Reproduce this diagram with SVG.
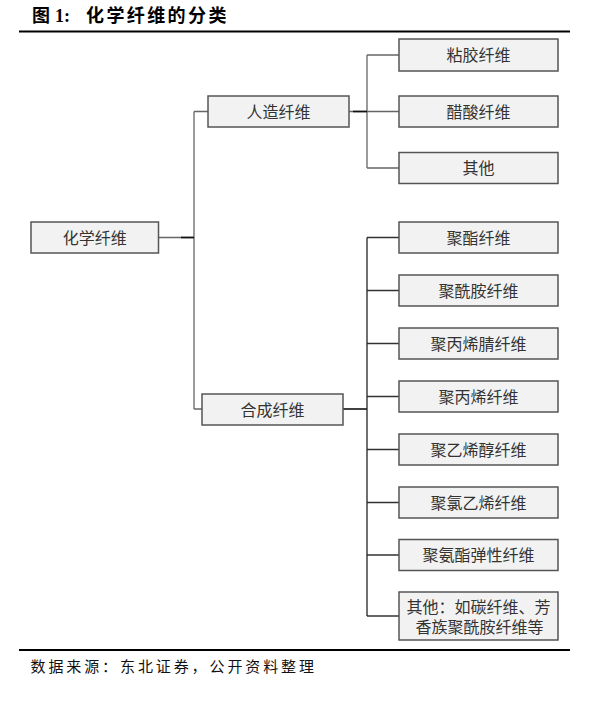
<svg xmlns="http://www.w3.org/2000/svg" width="613" height="705" viewBox="0 0 613 705">
<style>
.box{fill:#f2f2f2;stroke:#555;stroke-width:1.5}
.lbl{font-family:"Noto Sans CJK SC","Noto Sans",sans-serif;font-size:16px;fill:#333;text-anchor:middle}
.ln{fill:none;stroke:#666;stroke-width:1.3}
.dk{fill:none;stroke:#111;stroke-width:1.6}
.rule{stroke:#000;stroke-width:2.2}
</style>
<rect width="613" height="705" fill="#fff"/>
<g id="title">
<text x="32" y="21.5" style="font-family:'Noto Sans CJK SC',sans-serif;font-size:18px;font-weight:bold;fill:#000">图</text>
<text x="55" y="21.5" style="font-family:'Liberation Serif',serif;font-size:18px;font-weight:bold;fill:#000">1:</text>
<text x="86" y="21.5" style="font-family:'Noto Sans CJK SC',sans-serif;font-size:18px;font-weight:bold;fill:#000;letter-spacing:2.4px">化学纤维的分类</text>
</g>
<line class="rule" x1="19" y1="31.5" x2="570" y2="31.5"/>
<line class="rule" x1="19" y1="650" x2="570" y2="650"/>
<g id="connectors">
<path class="ln" d="M158.5,237.5H194M194,111.5V409M194,111.5H208M194,409H202"/>
<path class="dk" d="M181,237.5H194"/>
<path class="ln" d="M349,111.5H367M367,55V168M367,55H399M367,111.5H399M367,168H399"/>
<path class="dk" d="M353,111.5H367"/>
<path class="dk" d="M343,409H367"/>
<path class="ln" d="M367,237.5H399M367,290.5H399M367,343.5H399M367,396.5H399M367,449.5H399M367,502.5H399M367,555H399M367,616H399" style="stroke:#333"/>
<path class="ln" d="M367,237.5V616" style="stroke:#222"/>
</g>
<g id="n-huaxue"><rect class="box" x="31" y="222" width="127.5" height="31"/><text class="lbl" x="94.7" y="243.5">化学纤维</text></g>
<g id="n-renzao"><rect class="box" x="208" y="96" width="141" height="31"/><text class="lbl" x="278.5" y="117.5">人造纤维</text></g>
<g id="n-hecheng"><rect class="box" x="202" y="394" width="141" height="31"/><text class="lbl" x="272.5" y="415.5">合成纤维</text></g>
<g id="n-zhanjiao"><rect class="box" x="399" y="39" width="159" height="32"/><text class="lbl" x="478.5" y="61">粘胶纤维</text></g>
<g id="n-cusuan"><rect class="box" x="399" y="96" width="159" height="31"/><text class="lbl" x="478.5" y="117.5">醋酸纤维</text></g>
<g id="n-qita1"><rect class="box" x="399" y="152.5" width="159" height="31"/><text class="lbl" x="478.5" y="174">其他</text></g>
<g id="n-juzhi"><rect class="box" x="399" y="222" width="159" height="31"/><text class="lbl" x="478.5" y="243.5">聚酯纤维</text></g>
<g id="n-juxianan"><rect class="box" x="399" y="275" width="159" height="31"/><text class="lbl" x="478.5" y="296.5">聚酰胺纤维</text></g>
<g id="n-jubingxiqing"><rect class="box" x="399" y="328" width="159" height="31"/><text class="lbl" x="478.5" y="349.5">聚丙烯腈纤维</text></g>
<g id="n-jubingxi"><rect class="box" x="399" y="381" width="159" height="31"/><text class="lbl" x="478.5" y="402.5">聚丙烯纤维</text></g>
<g id="n-juyixichun"><rect class="box" x="399" y="434" width="159" height="31"/><text class="lbl" x="478.5" y="455.5">聚乙烯醇纤维</text></g>
<g id="n-julvyixi"><rect class="box" x="399" y="487" width="159" height="31"/><text class="lbl" x="478.5" y="508.5">聚氯乙烯纤维</text></g>
<g id="n-juanzhi"><rect class="box" x="399" y="539.5" width="159" height="31"/><text class="lbl" x="478.5" y="561">聚氨酯弹性纤维</text></g>
<g id="n-qita2"><rect class="box" x="399" y="592" width="159" height="48"/><text class="lbl" x="478.5" y="613.3">其他：如碳纤维、芳<tspan x="479.5" dy="19.4">香族聚酰胺纤维等</tspan></text></g>
<text x="30.5" y="671.5" style="font-family:'Noto Sans CJK SC',sans-serif;font-size:15px;fill:#111;letter-spacing:2.9px">数据来源：东北证券，公开资料整理</text>
</svg>
